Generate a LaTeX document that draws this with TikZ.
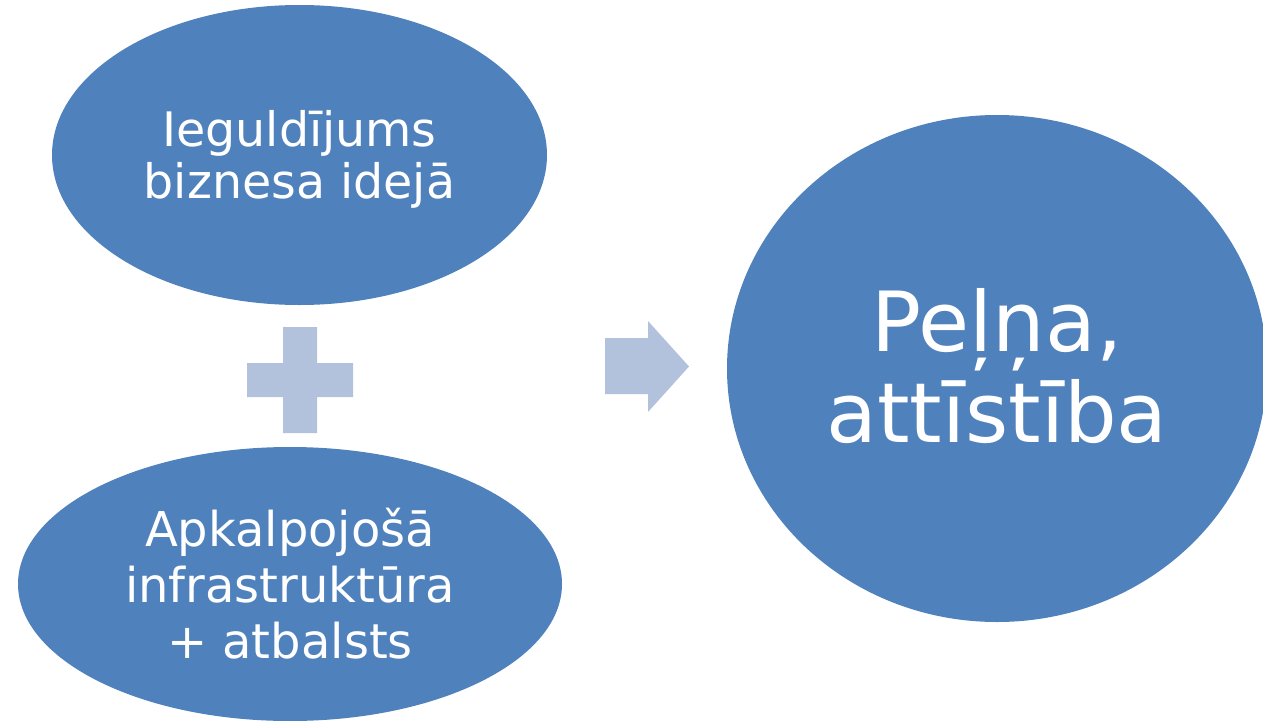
\documentclass[tikz,border=0pt]{standalone}
\usepackage{fontspec}
\setmainfont{DejaVu Sans}
\usetikzlibrary{shapes.geometric}
\definecolor{blob}{HTML}{4F81BD}
\definecolor{light}{HTML}{B3C2DC}
\begin{document}
\begin{tikzpicture}[x=1pt,y=-1pt,
  blobnode/.style={ellipse,fill=blob,inner sep=0pt},
  blobtext/.style={text=white,align=center,inner sep=0pt},
  lightshape/.style={fill=light,draw=none}]
\useasboundingbox (0,0) rectangle (1263,720);
\begin{scope}
\clip (0,0) rectangle (1263,720);
\node[blobnode,minimum width=495pt,minimum height=300pt] (top) at (299.5,155) {};
\node[blobnode,minimum width=544pt,minimum height=274pt] (bottom) at (290,584) {};
\node[blobnode,minimum width=540pt,minimum height=507pt] (result) at (997,368.5) {};
\end{scope}
\node[blobtext,font=\fontsize{47.5}{52}\selectfont] (toptext) at ([yshift=-4.5pt]top.center) {Ieguldījums\\biznesa idejā};
\node[blobtext,font=\fontsize{48}{56}\selectfont] (bottomtext) at (bottom.center) {Apkalpojošā\\infrastruktūra\\+ atbalsts};
\node[blobtext,font=\fontsize{83}{91}\selectfont] (resulttext) at ([yshift=2pt]result.center) {Peļņa,\\attīstība};
% plus sign
\fill[lightshape] (283,327) -- (317,327) -- (317,363) -- (353,363) -- (353,397)
  -- (317,397) -- (317,433) -- (283,433) -- (283,397) -- (247,397) -- (247,363)
  -- (283,363) -- cycle;
% arrow
\fill[lightshape] (605,338) -- (648,338) -- (648,321) -- (689,366.5) -- (648,412)
  -- (648,394) -- (605,394) -- cycle;
\end{tikzpicture}
\end{document}
